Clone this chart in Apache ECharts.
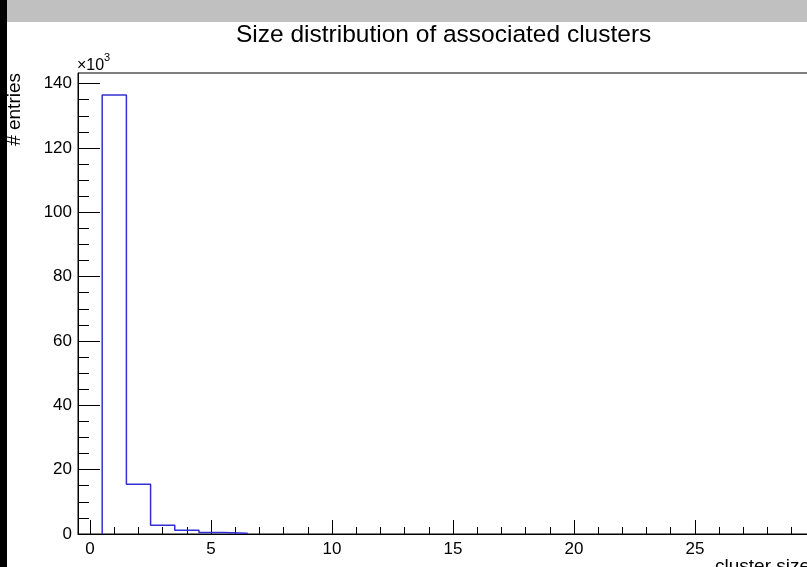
<!DOCTYPE html>
<html>
<head>
<meta charset="utf-8">
<script src="https://cdn.jsdelivr.net/npm/echarts@6/dist/echarts.min.js"></script>
<style>
html,body{margin:0;padding:0;background:#fff;overflow:hidden;}
#c{width:828px;height:567px;}
</style>
</head>
<body>
<div id="c"></div>
<script>
// Data (counts in units of 10^3)
const binLow   = [0.5, 1.5, 2.5, 3.5, 4.5, 5.5];
const binHigh  = [1.5, 2.5, 3.5, 4.5, 5.5, 6.5];
const counts   = [136.5, 15.5, 2.7, 1.2, 0.45, 0.25];
const xTickLabels = [0, 5, 10, 15, 20, 25];
const xMajorTicks = [0, 5, 10, 15, 20, 25, 30];
const xMinorTicks = [0,1,2,3,4,5,6,7,8,9,10,11,12,13,14,15,16,17,18,19,20,21,22,23,24,25,26,27,28,29,30];
const yMajorTicks = [0, 20, 40, 60, 80, 100, 120, 140];
const yMinorTicks = [0,5,10,15,20,25,30,35,40,45,50,55,60,65,70,75,80,85,90,95,100,105,110,115,120,125,130,135,140];

const FONT = '"Liberation Sans", Arial, Helvetica, sans-serif';
const X_MIN = -0.5, X_MAX = 30.5, Y_MAX = 143.3;

// histogram outline points
const outline = [[binLow[0], 0]];
for (let i = 0; i < counts.length; i++) {
  outline.push([binLow[i], counts[i]]);
  outline.push([binHigh[i], counts[i]]);
}
outline.push([binHigh[binHigh.length - 1], 0]);

const chart = echarts.init(document.getElementById('c'), null, {renderer: 'canvas'});
chart.setOption({
  animation: false,
  backgroundColor: '#fff',
  title: {
    text: 'Size distribution of associated clusters',
    left: 236, top: 23, padding: 0,
    textStyle: {fontFamily: FONT, fontSize: 24.5, fontWeight: 'normal', color: '#000'}
  },
  grid: {left: 78, top: 73, right: 0, bottom: 33, show: true, borderColor: '#000', borderWidth: 1, backgroundColor: 'transparent'},
  xAxis: [
    {type: 'value', min: X_MIN, max: X_MAX, position: 'bottom',
     axisLine: {show: true, onZero: false, lineStyle: {color: '#000', width: 1}},
     axisTick: {show: true, inside: true, length: 14, customValues: xMajorTicks, lineStyle: {color: '#000'}},
     axisLabel: {show: true, customValues: xTickLabels, fontFamily: FONT, fontSize: 17, color: '#000', margin: 7},
     splitLine: {show: false}},
    {type: 'value', min: X_MIN, max: X_MAX, position: 'bottom',
     axisLine: {show: false, onZero: false},
     axisTick: {show: true, inside: true, length: 7, customValues: xMinorTicks, lineStyle: {color: '#000'}},
     axisLabel: {show: false},
     splitLine: {show: false}}
  ],
  yAxis: [
    {type: 'value', min: 0, max: Y_MAX, position: 'left',
     axisLine: {show: true, onZero: false, lineStyle: {color: '#000', width: 1}},
     axisTick: {show: true, inside: true, length: 22, customValues: yMajorTicks, lineStyle: {color: '#000'}},
     axisLabel: {show: true, customValues: yMajorTicks, fontFamily: FONT, fontSize: 17, color: '#000', margin: 6},
     splitLine: {show: false}},
    {type: 'value', min: 0, max: Y_MAX, position: 'left',
     axisLine: {show: false, onZero: false},
     axisTick: {show: true, inside: true, length: 11, customValues: yMinorTicks, lineStyle: {color: '#000'}},
     axisLabel: {show: false},
     splitLine: {show: false}}
  ],
  series: [{
    type: 'line', xAxisIndex: 0, yAxisIndex: 0,
    data: outline, symbol: 'none', silent: true,
    lineStyle: {color: '#3030d4', width: 1.5}
  }],
  graphic: [
    {type: 'rect', shape: {x: 0, y: 0, width: 828, height: 22}, style: {fill: '#c0c0c0'}, z: 10},
    {type: 'rect', shape: {x: 0, y: 0, width: 7, height: 567}, style: {fill: '#000'}, z: 11},
    {type: 'text', x: 77, y: 66, z: 10,
     style: {text: '×10', font: '16px ' + FONT, fill: '#000', textAlign: 'left', textVerticalAlign: 'middle'}},
    {type: 'text', x: 104, y: 58, z: 10,
     style: {text: '3', font: '11px ' + FONT, fill: '#000', textAlign: 'left', textVerticalAlign: 'middle'}},
    {type: 'text', x: 15, y: 73, rotation: Math.PI / 2, z: 10,
     style: {text: '# entries', font: '19px ' + FONT, fill: '#000', textAlign: 'right', textVerticalAlign: 'middle'}},
    {type: 'text', x: 715, y: 567, z: 10,
     style: {text: 'cluster size', font: '19px ' + FONT, fill: '#000', textAlign: 'left', textVerticalAlign: 'middle'}}
  ]
});
</script>
</body>
</html>
